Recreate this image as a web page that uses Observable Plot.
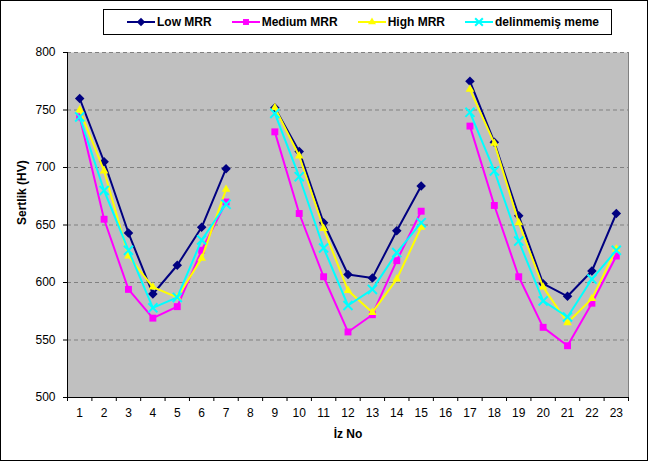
<!DOCTYPE html>
<html><head><meta charset="utf-8">
<script src="https://cdn.jsdelivr.net/npm/d3@7"></script>
<script src="https://cdn.jsdelivr.net/npm/@observablehq/plot@0.6"></script>
<style>
html,body{margin:0;padding:0;background:#fff;}
#wrap{position:relative;width:650px;height:462px;font-family:"Liberation Sans",Arial,sans-serif;}
#wrap svg.plot{position:absolute;left:0;top:0;}
#border{position:absolute;left:0;top:0;width:648px;height:461px;box-sizing:border-box;border:1px solid #000;pointer-events:none;}
#legend{position:absolute;left:103px;top:9px;width:509px;height:26px;box-sizing:border-box;border:1px solid #000;background:#fff;display:flex;align-items:center;padding-left:23px;gap:20px;font-weight:bold;font-size:12px;color:#000;}
.item{display:flex;align-items:center;gap:2px;white-space:nowrap;}
</style></head><body>
<div id="wrap"></div>
<script>
const positions = d3.range(1, 24);
const lowMRR    = [760,705,643,590,615,648,699,null,752,714,652,607,604,645,684,null,775,722,658,599,588,610,660];
const mediumMRR = [744,655,594,569,579,628,670,null,731,660,605,557,572,619,662,null,736,667,605,561,545,582,623];
const highMRR   = [750,697,623,596,587,621,681,null,752,710,647,593,574,603,648,null,768,721,652,596,565,586,629];
const delinmemis= [744,680,628,578,587,637,668,null,747,692,630,580,594,626,652,null,748,697,636,584,570,603,628];
const seriesNames   = ["Low MRR","Medium MRR","High MRR","delinmemiş meme"];
const seriesValues  = [lowMRR, mediumMRR, highMRR, delinmemis];
const seriesColors  = ["#000080","#FF00FF","#FFFF00","#00FFFF"];
const seriesSymbols = ["diamond2","square2","triangle2","times"];
const yTicks = [500,550,600,650,700,750,800];
const xTitle = "İz No";
const yTitle = "Sertlik (HV)";

const series = seriesNames.map((name, i) => ({
  name, color: seriesColors[i], symbol: seriesSymbols[i],
  rows: positions.map((p, j) => ({x: p, y: seriesValues[i][j] == null ? NaN : seriesValues[i][j]}))
}));

const symbolR = {diamond2: 4.3, square2: 4.4, triangle2: 4.1, times: 4.2};

const marks = [
  Plot.frame({fill: "#C0C0C0", stroke: null}),
  Plot.gridY({ticks: yTicks.slice(1), stroke: "#808080", strokeOpacity: 1, strokeDasharray: "4,3"}),
  Plot.ruleX([23.5], {stroke: "#808080"}),
  Plot.ruleX([0.5], {stroke: "#000"}),
  Plot.ruleY([500], {stroke: "#000"}),
  Plot.axisY({ticks: yTicks, tickSize: 4, tickPadding: 8, fontSize: 12, label: null}),
  Plot.axisX({ticks: positions, tickSize: 0, tickPadding: 11, fontSize: 12, label: null}),
  Plot.axisX({ticks: d3.range(0.5, 24, 1), tickSize: 4, tickFormat: () => "", label: null}),
  Plot.text([xTitle], {text: d => d, frameAnchor: "bottom", dy: 40, fontWeight: "bold", fontSize: 12}),
  Plot.text([yTitle], {text: d => d, frameAnchor: "left", rotate: -90, dx: -45, fontWeight: "bold", fontSize: 12})
];
for (const s of series) {
  marks.push(Plot.line(s.rows, {x: "x", y: "y", stroke: s.color, strokeWidth: 2}));
  if (s.symbol === "times") {
    marks.push(Plot.dot(s.rows, {x: "x", y: "y", symbol: s.symbol, stroke: s.color, strokeWidth: 2, r: symbolR[s.symbol]}));
  } else {
    marks.push(Plot.dot(s.rows, {x: "x", y: "y", symbol: s.symbol, fill: s.color, r: symbolR[s.symbol]}));
  }
}

const chart = Plot.plot({
  width: 650, height: 462,
  marginLeft: 67, marginRight: 22, marginTop: 52, marginBottom: 65,
  x: {domain: [0.5, 23.5]},
  y: {domain: [500, 800]},
  style: {fontFamily: "'Liberation Sans', Arial, sans-serif", fontSize: "12px", background: "transparent", color: "#000", overflow: "visible"},
  marks
});
const wrap = document.getElementById("wrap");
wrap.appendChild(chart);
const border = document.createElement("div");
border.id = "border";
wrap.appendChild(border);

// legend
const legend = d3.select(wrap).append("div").attr("id", "legend");
for (const s of series) {
  const item = legend.append("div").attr("class", "item");
  const svg = item.append("svg").attr("width", 28).attr("height", 12);
  svg.append("line").attr("x1", 0).attr("x2", 28).attr("y1", 6).attr("y2", 6).attr("stroke", s.color).attr("stroke-width", 2);
  const symMap = {diamond2: d3.symbolDiamond2, square2: d3.symbolSquare2, triangle2: d3.symbolTriangle2, times: d3.symbolTimes};
  const path = svg.append("path").attr("transform", "translate(14,6)")
    .attr("d", d3.symbol(symMap[s.symbol], s.symbol === "times" ? 40 : 45)());
  if (s.symbol === "times") path.attr("fill", "none").attr("stroke", s.color).attr("stroke-width", 2);
  else path.attr("fill", s.color);
  item.append("span").text(s.name);
}
</script>
</body></html>
